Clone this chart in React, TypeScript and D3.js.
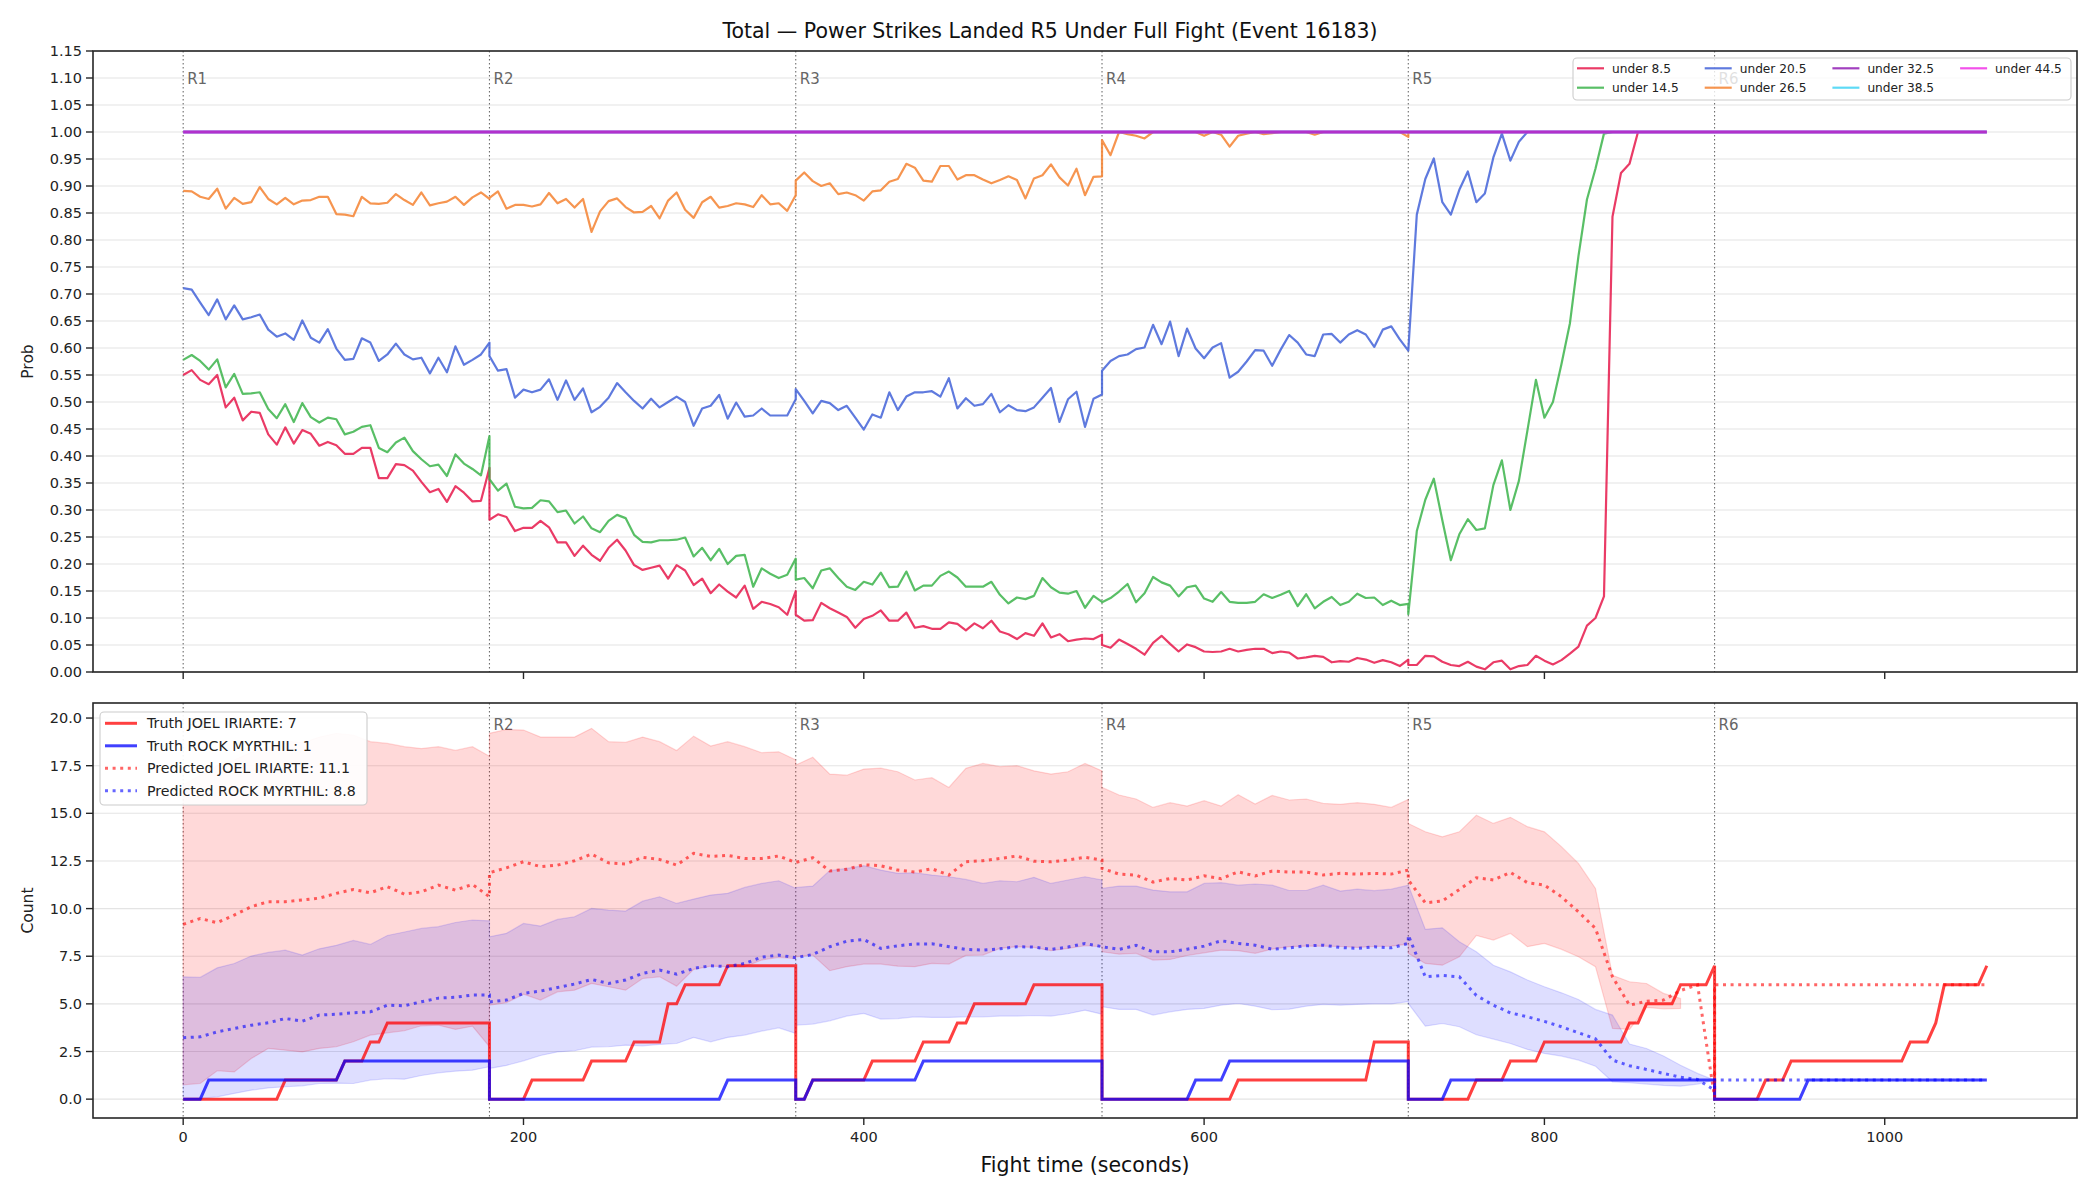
import * as d3 from 'd3';

const FONT = 'DejaVu Sans, Verdana, sans-serif';

// round layout of the fight (seconds)
const ROUND_START = [0, 180, 360, 540, 720, 900];
const ROUND_LABEL = ['R1', 'R2', 'R3', 'R4', 'R5', 'R6'];
const TOP_DT = 5;   // prob samples every 5 s
const TRUTH_DT = 5; // truth counts every 5 s
const PRED_DT = 10; // prediction + band samples every 10 s

// ---------------- top panel: P(total under line), one array per round ----------------
const LINE_LABELS = ['under 8.5', 'under 14.5', 'under 20.5', 'under 26.5', 'under 32.5', 'under 38.5', 'under 44.5'];
const LINE_COLORS = ['#e6194b', '#3cb44b', '#4363d8', '#f58231', '#911eb4', '#42d4f4', '#f032e6'];

const U8 = [
  [0.550,0.559,0.541,0.533,0.550,0.490,0.508,0.466,0.482,0.480,
   0.440,0.421,0.453,0.423,0.448,0.441,0.419,0.426,0.420,0.404,
   0.404,0.415,0.415,0.359,0.359,0.385,0.383,0.373,0.352,0.333,
   0.339,0.315,0.344,0.332,0.316,0.317,0.378],
  [0.282,0.292,0.287,0.261,0.267,0.267,0.280,0.268,0.240,0.240,
   0.215,0.234,0.217,0.206,0.230,0.245,0.225,0.198,0.189,0.193,
   0.197,0.173,0.198,0.188,0.161,0.173,0.146,0.162,0.149,0.138,
   0.160,0.117,0.130,0.126,0.120,0.106,0.150],
  [0.106,0.095,0.096,0.128,0.118,0.110,0.102,0.082,0.098,0.104,
   0.114,0.095,0.095,0.110,0.082,0.085,0.080,0.080,0.092,0.089,
   0.077,0.090,0.081,0.095,0.075,0.070,0.061,0.072,0.067,0.090,
   0.064,0.070,0.057,0.060,0.062,0.061,0.069],
  [0.050,0.045,0.060,0.052,0.043,0.032,0.054,0.067,0.052,0.038,
   0.051,0.046,0.038,0.037,0.038,0.043,0.038,0.041,0.043,0.043,
   0.035,0.038,0.036,0.025,0.027,0.030,0.028,0.018,0.020,0.019,
   0.026,0.023,0.017,0.022,0.018,0.011,0.023],
  [0.013,0.013,0.030,0.029,0.019,0.013,0.011,0.019,0.010,0.005,
   0.018,0.021,0.005,0.011,0.013,0.030,0.021,0.014,0.022,0.034,
   0.047,0.086,0.100,0.140,0.843,0.924,0.941,1,1,1,
   1,1,1,1,1,1,1],
];

const U14 = [
  [0.578,0.587,0.576,0.560,0.579,0.527,0.552,0.515,0.516,0.518,
   0.487,0.470,0.496,0.463,0.498,0.472,0.462,0.471,0.468,0.440,
   0.445,0.454,0.457,0.415,0.407,0.425,0.434,0.409,0.394,0.381,
   0.384,0.363,0.403,0.386,0.376,0.364,0.437],
  [0.357,0.336,0.349,0.306,0.303,0.304,0.318,0.316,0.296,0.299,
   0.275,0.288,0.266,0.259,0.280,0.291,0.285,0.254,0.241,0.240,
   0.244,0.244,0.245,0.249,0.214,0.230,0.207,0.228,0.200,0.215,
   0.217,0.158,0.192,0.182,0.174,0.180,0.210],
  [0.171,0.174,0.155,0.188,0.192,0.174,0.158,0.152,0.167,0.162,
   0.184,0.157,0.158,0.186,0.151,0.160,0.160,0.178,0.186,0.175,
   0.158,0.158,0.158,0.167,0.143,0.127,0.138,0.135,0.141,0.174,
   0.157,0.147,0.145,0.150,0.119,0.141,0.130],
  [0.129,0.137,0.149,0.163,0.129,0.146,0.176,0.166,0.160,0.140,
   0.157,0.160,0.136,0.130,0.148,0.130,0.128,0.128,0.130,0.144,
   0.137,0.143,0.150,0.122,0.144,0.118,0.130,0.139,0.124,0.130,
   0.145,0.137,0.138,0.124,0.132,0.124,0.126],
  [0.107,0.261,0.319,0.358,0.281,0.207,0.255,0.283,0.263,0.266,
   0.346,0.392,0.300,0.354,0.447,0.541,0.471,0.500,0.570,0.646,
   0.770,0.875,0.932,0.997,1,1,1,1,1,1,
   1,1,1,1,1,1,1],
];

const U20 = [
  [0.711,0.708,0.684,0.661,0.690,0.653,0.679,0.653,0.657,0.662,
   0.634,0.621,0.627,0.615,0.651,0.619,0.610,0.635,0.599,0.578,
   0.580,0.618,0.610,0.576,0.588,0.608,0.588,0.579,0.582,0.553,
   0.582,0.555,0.603,0.569,0.578,0.588,0.610],
  [0.585,0.558,0.561,0.508,0.523,0.518,0.523,0.542,0.504,0.540,
   0.504,0.525,0.481,0.491,0.508,0.535,0.518,0.502,0.488,0.506,
   0.490,0.500,0.510,0.500,0.456,0.488,0.493,0.513,0.469,0.499,
   0.473,0.475,0.488,0.475,0.475,0.475,0.505],
  [0.524,0.502,0.479,0.502,0.498,0.485,0.493,0.471,0.449,0.477,
   0.471,0.518,0.485,0.510,0.518,0.518,0.520,0.510,0.544,0.488,
   0.507,0.493,0.496,0.515,0.481,0.494,0.485,0.483,0.490,0.508,
   0.526,0.463,0.505,0.519,0.454,0.506,0.514],
  [0.558,0.576,0.585,0.588,0.598,0.601,0.643,0.607,0.649,0.585,
   0.636,0.599,0.581,0.601,0.609,0.545,0.556,0.575,0.596,0.595,
   0.567,0.597,0.624,0.610,0.588,0.585,0.625,0.626,0.610,0.625,
   0.633,0.625,0.602,0.634,0.640,0.616,0.595],
  [0.595,0.847,0.913,0.951,0.870,0.847,0.893,0.927,0.870,0.886,
   0.953,0.997,0.947,0.982,1,1,1,1,1,1,
   1,1,1,1,1,1,1,1,1,1,
   1,1,1,1,1,1,1],
];

const U26 = [
  [0.891,0.890,0.880,0.876,0.895,0.858,0.878,0.867,0.870,0.898,
   0.876,0.866,0.878,0.866,0.873,0.874,0.880,0.880,0.848,0.847,
   0.844,0.880,0.868,0.867,0.869,0.885,0.874,0.865,0.888,0.864,
   0.868,0.871,0.880,0.865,0.879,0.888,0.876],
  [0.878,0.890,0.858,0.865,0.865,0.862,0.866,0.887,0.868,0.876,
   0.860,0.876,0.815,0.853,0.872,0.877,0.861,0.851,0.852,0.863,
   0.840,0.873,0.888,0.856,0.841,0.870,0.880,0.860,0.863,0.868,
   0.866,0.861,0.883,0.866,0.868,0.854,0.883],
  [0.910,0.925,0.909,0.900,0.905,0.885,0.888,0.883,0.873,0.890,
   0.892,0.908,0.913,0.941,0.934,0.910,0.908,0.937,0.937,0.912,
   0.920,0.920,0.912,0.905,0.911,0.918,0.911,0.877,0.914,0.920,
   0.940,0.916,0.901,0.932,0.883,0.917,0.918],
  [0.985,0.957,1,0.996,0.993,0.988,1,1,1,1,
   1,1,0.993,1,0.995,0.973,0.993,0.997,1,0.996,
   0.998,1,1,1,1,0.995,1,1,1,1,
   1,1,1,1,1,1,0.991],
  [1,1,1,1,1,1,1,1,1,1,
   1,1,1,1,1,1,1,1,1,1,
   1,1,1,1,1,1,1,1,1,1,
   1,1,1,1,1,1,1],
];

// R6: every line already settled at 1.0
const SETTLED_T = [900, 1060];
const SETTLED_P = [1, 1];
// under 32.5 / 38.5 / 44.5 stay at 1.0 all fight
const FLAT_T = [0, 1060];
const FLAT_P = [1, 1];

// ---------------- bottom panel: counts ----------------
const FIGHTERS = ['JOEL IRIARTE', 'ROCK MYRTHIL'];
const FINAL_TRUTH = [7, 1];
const FINAL_PRED = [11.1, 8.8];

const RED_TRUTH = [
  [0,0,0,0,0,0,0,0,0,0, 0,0,1,1,1,1,1,1,1,2, 2,2,3,3,4,4,4,4,4,4, 4,4,4,4,4,4,4],
  [0,0,0,0,0,1,1,1,1,1, 1,1,2,2,2,2,2,3,3,3, 3,5,5,6,6,6,6,6,7,7, 7,7,7,7,7,7,7],
  [0,0,1,1,1,1,1,1,1,2, 2,2,2,2,2,3,3,3,3,4, 4,5,5,5,5,5,5,5,6,6, 6,6,6,6,6,6,6],
  [0,0,0,0,0,0,0,0,0,0, 0,0,0,0,0,0,1,1,1,1, 1,1,1,1,1,1,1,1,1,1, 1,1,3,3,3,3,3],
  [0,0,0,0,0,0,0,0,1,1, 1,1,2,2,2,2,3,3,3,3, 3,3,3,3,3,3,4,4,5,5, 5,5,6,6,6,6,7],
  [0,0,0,0,0,0,1,1,1,2, 2,2,2,2,2,2,2,2,2,2, 2,2,2,3,3,3,4,6,6,6, 6,6,7],
];
const BLUE_TRUTH = [
  [0,0,0,1,1,1,1,1,1,1, 1,1,1,1,1,1,1,1,1,2, 2,2,2,2,2,2,2,2,2,2, 2,2,2,2,2,2,2],
  [0,0,0,0,0,0,0,0,0,0, 0,0,0,0,0,0,0,0,0,0, 0,0,0,0,0,0,0,0,1,1, 1,1,1,1,1,1,1],
  [0,0,1,1,1,1,1,1,1,1, 1,1,1,1,1,2,2,2,2,2, 2,2,2,2,2,2,2,2,2,2, 2,2,2,2,2,2,2],
  [0,0,0,0,0,0,0,0,0,0, 0,1,1,1,1,2,2,2,2,2, 2,2,2,2,2,2,2,2,2,2, 2,2,2,2,2,2,2],
  [0,0,0,0,0,1,1,1,1,1, 1,1,1,1,1,1,1,1,1,1, 1,1,1,1,1,1,1,1,1,1, 1,1,1,1,1,1,1],
  [0,0,0,0,0,0,0,0,0,0, 0,1,1,1,1,1,1,1,1,1, 1,1,1,1,1,1,1,1,1,1, 1,1,1],
];

const RED_PRED = [
  [9.17,9.48,9.26,9.66,10.1,10.36,10.36,10.45,10.55,10.8,11.0,10.83,11.15,10.76,10.88,11.23,10.97,11.27,10.62],
  [11.88,12.14,12.46,12.2,12.28,12.51,12.86,12.4,12.34,12.69,12.58,12.28,12.9,12.74,12.79,12.63,12.63,12.76,12.42],
  [12.42,12.67,11.97,12.06,12.3,12.25,12.02,11.92,12.09,11.76,12.46,12.51,12.63,12.76,12.49,12.46,12.55,12.69,12.55],
  [12.11,11.81,11.76,11.39,11.58,11.5,11.72,11.57,11.93,11.71,11.97,11.92,11.92,11.76,11.85,11.81,11.85,11.81,12.02],
  [11.5,10.3,10.4,11.0,11.62,11.5,11.9,11.36,11.23,10.62,9.83,8.96,6.42,4.93,5.14,5.2,5.7,6.0,0.1],
  [6,6,6,6,6,6,6,6,6,6,6,6,6,6,6,6,6],
];
const BLUE_PRED = [
  [3.22,3.27,3.53,3.71,3.88,4.01,4.23,4.09,4.41,4.46,4.53,4.58,4.93,4.9,5.11,5.3,5.35,5.46,5.46],
  [5.1,5.2,5.55,5.67,5.86,6.04,6.28,6.07,6.25,6.6,6.77,6.56,6.86,7.0,6.95,7.12,7.45,7.56,7.42],
  [7.42,7.59,8.0,8.29,8.38,7.91,8.05,8.14,8.15,8.0,7.86,7.82,7.89,8.0,7.98,7.86,7.98,8.17,8.0],
  [8.0,7.86,8.07,7.73,7.73,7.87,8.03,8.31,8.17,8.08,7.87,7.94,8.05,8.08,7.96,7.91,8.0,7.94,8.17],
  [8.6,6.42,6.49,6.42,5.44,4.93,4.53,4.32,4.08,3.8,3.48,3.17,2.05,1.75,1.56,1.35,1.15,1.03,0.47],
  [1,1,1,1,1,1,1,1,1,1,1,1,1,1,1,1,1],
];

const RED_HI = [
  [16.5,17.0,17.5,17.8,18.2,18.5,18.8,18.7,19.0,19.2,19.1,18.76,18.67,18.5,18.4,18.5,18.3,18.5,18.0],
  [19.2,19.4,19.37,19.0,19.0,19.0,19.46,18.76,18.72,19.0,18.76,18.3,19.05,18.53,18.76,18.5,18.18,18.23,17.8],
  [17.53,17.94,17.06,17.0,17.32,17.37,17.18,16.75,16.87,16.36,17.36,17.62,17.45,17.5,17.23,17.06,17.18,17.62,17.23],
  [16.36,15.96,15.75,15.31,15.56,15.38,15.66,15.38,15.98,15.49,15.94,15.7,15.75,15.52,15.47,15.56,15.47,15.31,15.73],
  [14.47,14.03,13.77,14.03,14.9,14.47,14.79,14.3,14.03,13.25,12.37,11.06,6.5,6.16,6.07,5.55,5.28],
];
const RED_LO = [
  [0.75,0.82,1.49,1.43,2.13,2.66,2.57,2.48,2.66,2.75,3.01,3.36,3.48,3.59,3.85,3.88,3.66,3.83,2.75],
  [4.93,5.06,5.51,5.2,5.63,5.72,6.07,5.9,5.72,6.33,6.42,5.93,6.81,6.98,6.95,6.95,7.3,7.44,7.38],
  [7.47,7.56,6.74,6.95,7.09,7.09,6.98,6.95,7.12,7.09,7.54,7.56,7.91,8.0,7.96,7.79,7.91,8.05,8.0],
  [7.73,7.61,7.65,7.3,7.33,7.54,7.68,7.82,7.79,7.65,7.87,8.0,8.03,8.03,8.01,7.96,8.01,8.03,8.14],
  [7.65,7.12,7.03,7.47,8.59,8.35,8.7,8.0,8.17,7.86,7.47,6.95,3.71,3.66,4.81,4.74,4.76],
];
const BLUE_HI = [
  [6.42,6.39,6.89,7.12,7.51,7.7,7.82,7.56,7.89,8.07,8.33,8.12,8.59,8.77,8.96,9.05,9.27,9.4,9.36],
  [8.52,8.7,9.22,9.08,9.43,9.57,10.01,9.92,9.87,10.39,10.62,10.27,10.5,10.71,10.8,11.11,11.32,11.46,11.06],
  [11.11,11.18,11.99,12.11,12.25,12.02,11.85,11.88,11.76,11.67,11.53,11.32,11.46,11.41,11.64,11.32,11.5,11.67,11.5],
  [11.06,11.18,11.18,10.97,10.88,10.88,11.32,11.36,11.23,11.29,11.23,10.95,10.95,11.23,10.92,11.02,10.94,11.02,11.23],
  [11.23,8.91,8.99,8.26,7.73,7.03,6.68,6.25,5.9,5.58,5.23,4.71,4.41,2.89,2.66,2.26,1.78,1.35,1.0],
];
const BLUE_LO = [
  [0.05,0.04,0.12,0.3,0.47,0.59,0.65,0.7,0.82,0.84,0.82,1.0,1.07,1.05,1.24,1.38,1.47,1.52,1.7],
  [1.61,1.77,2.01,2.29,2.48,2.54,2.73,2.75,2.83,2.8,2.87,2.92,3.24,3.01,3.24,3.36,3.57,3.74,3.45],
  [3.88,3.94,4.11,4.36,4.5,4.2,4.23,4.32,4.29,4.29,4.32,4.32,4.36,4.36,4.39,4.36,4.48,4.67,4.46],
  [4.85,4.71,4.71,4.41,4.58,4.71,4.76,4.93,5.02,4.88,4.69,4.72,4.88,4.97,4.93,4.97,5.0,5.0,5.11],
  [5.02,3.83,3.97,3.8,3.38,3.15,2.92,2.61,2.4,2.26,2.05,1.73,0.91,0.86,0.79,0.72,0.68,0.79,1.0],
];

const P_TICKS = d3.range(24).map(i => i * 0.05);
const C_TICKS = d3.range(9).map(i => i * 2.5);
const X_TICKS = [0, 200, 400, 600, 800, 1000];

type Pt = [number, number];

// stitch per-round arrays into one polyline (round starts repeat the previous end time)
function byRound(rounds: number[][], dt: number): Pt[] {
  const pts: Pt[] = [];
  rounds.forEach((vals, r) => vals.forEach((v, i) => pts.push([ROUND_START[r] + i * dt, v])));
  return pts;
}
const zip = (ts: number[], vs: number[]): Pt[] => ts.map((t, i) => [t, vs[i]]);

export default function App() {
  // general dims (figure pixels)
  const width = 2100;
  const height = 1200;
  const left = 93;
  const right = 2077;
  const top1 = 51, bot1 = 672;
  const top2 = 703, bot2 = 1118;

  const x = d3.scaleLinear().domain([-53, 1113]).range([left, right]);
  const yP = d3.scaleLinear().domain([0, 1.15]).range([bot1, top1]);
  const yC = d3.scaleLinear().domain([-0.99, 20.79]).range([bot2, top2]);

  const lineP = d3.line<Pt>().x(d => x(d[0])).y(d => yP(d[1]));
  const lineC = d3.line<Pt>().x(d => x(d[0])).y(d => yC(d[1]));

  const movingSeries = [
    byRound(U8, TOP_DT).concat(zip(SETTLED_T, SETTLED_P)),
    byRound(U14, TOP_DT).concat(zip(SETTLED_T, SETTLED_P)),
    byRound(U20, TOP_DT).concat(zip(SETTLED_T, SETTLED_P)),
    byRound(U26, TOP_DT).concat(zip(SETTLED_T, SETTLED_P)),
  ];
  // the three always-1.0 lines stack on one another; the purple one reads on top
  const flatOrder = [5, 6, 4];

  const band = (hi: number[][], lo: number[][]) => {
    const h = byRound(hi, PRED_DT);
    const l = byRound(lo, PRED_DT);
    return d3.area<number>()
      .x(i => x(h[i][0]))
      .y0(i => yC(l[i][1]))
      .y1(i => yC(h[i][1]))(d3.range(h.length));
  };

  const axisColor = '#262626';
  const tickFont = 14.5;

  const roundLines = (y0: number, y1: number, labelY: number, key: string) => (
    <g key={key}>
      {ROUND_START.map((t, i) => (
        <g key={i}>
          <line x1={x(t)} x2={x(t)} y1={y0} y2={y1} stroke="#555" strokeWidth={1.1}
            strokeDasharray="1.4,2.6" opacity={0.85} />
          <text x={x(t) + 4} y={labelY} fontSize={15} fill="#666" fontFamily={FONT}>
            {ROUND_LABEL[i]}
          </text>
        </g>
      ))}
    </g>
  );

  const xTicks = (yb: number, labels: boolean) => X_TICKS.map(t => (
    <g key={t}>
      <line x1={x(t)} x2={x(t)} y1={yb} y2={yb + 7} stroke={axisColor} strokeWidth={1.4} />
      {labels && (
        <text x={x(t)} y={yb + 24} textAnchor="middle" fontSize={tickFont} fill="#222" fontFamily={FONT}>
          {t}
        </text>
      )}
    </g>
  ));

  const legendTop = { x: 1573, y: 58, w: 498, h: 42 };
  const legendBot = { x: 100, y: 712, w: 267, h: 93 };
  const dotted = '3,4.6';

  return (
    <div style={{ position: 'absolute', left: 0, top: 0 }}>
      <svg width={width} height={height} style={{ display: 'block', background: '#fff' }}>
        <rect width={width} height={height} fill="#fff" />

        {/* title */}
        <text x={width / 2} y={38} textAnchor="middle" fontSize={20.5} fill="#111" fontFamily={FONT}>
          Total — Power Strikes Landed R5 Under Full Fight (Event 16183)
        </text>

        {/* ---------- top panel ---------- */}
        {P_TICKS.map(v => (
          <line key={v} x1={left} x2={right} y1={yP(v)} y2={yP(v)} stroke="#e4e4e4" strokeWidth={1.1} />
        ))}
        {roundLines(top1, bot1, 84, 'rt')}
        {movingSeries.map((pts, i) => (
          <path key={i} d={lineP(pts) || ''} fill="none" stroke={LINE_COLORS[i]} strokeOpacity={0.85}
            strokeWidth={2.2} strokeLinejoin="round" />
        ))}
        {flatOrder.map((c, j) => (
          <path key={c} d={lineP(zip(FLAT_T, FLAT_P)) || ''} fill="none" stroke={LINE_COLORS[c]}
            strokeOpacity={j === 2 ? 0.55 : 0.85} strokeWidth={2.8} />
        ))}

        {/* top legend */}
        <rect x={legendTop.x} y={legendTop.y} width={legendTop.w} height={legendTop.h} rx={4}
          fill="#fff" fillOpacity={0.8} stroke="#cccccc" strokeWidth={1.1} />
        {LINE_LABELS.map((lab, i) => {
          const col = Math.floor(i / 2);
          const row = i % 2;
          const lx = 1577 + col * 127.7;
          const ly = 68.3 + row * 19.4;
          return (
            <g key={lab}>
              <line x1={lx} x2={lx + 27} y1={ly} y2={ly} stroke={LINE_COLORS[i]} strokeOpacity={0.85} strokeWidth={2.2} />
              <text x={lx + 35} y={ly + 4.3} fontSize={12.2} fill="#222" fontFamily={FONT}>{lab}</text>
            </g>
          );
        })}

        {/* top axes */}
        {P_TICKS.map(v => (
          <g key={v}>
            <line x1={left - 7} x2={left} y1={yP(v)} y2={yP(v)} stroke={axisColor} strokeWidth={1.4} />
            <text x={left - 11} y={yP(v) + 5} textAnchor="end" fontSize={tickFont} fill="#222" fontFamily={FONT}>
              {d3.format('.2f')(v)}
            </text>
          </g>
        ))}
        {xTicks(bot1, false)}
        <rect x={left} y={top1} width={right - left} height={bot1 - top1} fill="none" stroke={axisColor} strokeWidth={1.6} />
        <text transform={`translate(33, ${(top1 + bot1) / 2}) rotate(-90)`} textAnchor="middle" fontSize={15.5}
          fill="#222" fontFamily={FONT}>Prob</text>

        {/* ---------- bottom panel ---------- */}
        {C_TICKS.map(v => (
          <line key={v} x1={left} x2={right} y1={yC(v)} y2={yC(v)} stroke="#e4e4e4" strokeWidth={1.1} />
        ))}
        {roundLines(top2, bot2, 729.5, 'rb')}

        {/* uncertainty bands */}
        <path d={band(RED_HI, RED_LO) || ''} fill="#ff0000" fillOpacity={0.15} stroke="#ff0000" strokeOpacity={0.15} strokeWidth={1.2} />
        <path d={band(BLUE_HI, BLUE_LO) || ''} fill="#0000ff" fillOpacity={0.13} stroke="#0000ff" strokeOpacity={0.13} strokeWidth={1.2} />

        {/* truth */}
        <path d={lineC(byRound(RED_TRUTH, TRUTH_DT)) || ''} fill="none" stroke="#ff0000" strokeOpacity={0.75} strokeWidth={3} />
        <path d={lineC(byRound(BLUE_TRUTH, TRUTH_DT)) || ''} fill="none" stroke="#0000ff" strokeOpacity={0.75} strokeWidth={3} />

        {/* predicted */}
        <path d={lineC(byRound(RED_PRED, PRED_DT)) || ''} fill="none" stroke="#ff0000" strokeOpacity={0.6} strokeWidth={3}
          strokeDasharray={dotted} />
        <path d={lineC(byRound(BLUE_PRED, PRED_DT)) || ''} fill="none" stroke="#0000ff" strokeOpacity={0.6} strokeWidth={3}
          strokeDasharray={dotted} />

        {/* bottom legend (covers the R1 tag, as in the original) */}
        <rect x={legendBot.x} y={legendBot.y} width={legendBot.w} height={legendBot.h} rx={4}
          fill="#fff" fillOpacity={0.92} stroke="#cccccc" strokeWidth={1.1} />
        {[0, 1, 2, 3].map(i => {
          const who = i % 2;
          const pred = i >= 2;
          const ly = 723.3 + i * 22.5;
          const label = pred
            ? `Predicted ${FIGHTERS[who]}: ${FINAL_PRED[who]}`
            : `Truth ${FIGHTERS[who]}: ${FINAL_TRUTH[who]}`;
          return (
            <g key={i}>
              <line x1={105} x2={137} y1={ly} y2={ly} stroke={who ? '#0000ff' : '#ff0000'}
                strokeOpacity={pred ? 0.6 : 0.75} strokeWidth={3} strokeDasharray={pred ? dotted : undefined} />
              <text x={147} y={ly + 5} fontSize={14.2} fill="#222" fontFamily={FONT}>{label}</text>
            </g>
          );
        })}

        {/* bottom axes */}
        {C_TICKS.map(v => (
          <g key={v}>
            <line x1={left - 7} x2={left} y1={yC(v)} y2={yC(v)} stroke={axisColor} strokeWidth={1.4} />
            <text x={left - 11} y={yC(v) + 5} textAnchor="end" fontSize={tickFont} fill="#222" fontFamily={FONT}>
              {d3.format('.1f')(v)}
            </text>
          </g>
        ))}
        {xTicks(bot2, true)}
        <rect x={left} y={top2} width={right - left} height={bot2 - top2} fill="none" stroke={axisColor} strokeWidth={1.6} />
        <text transform={`translate(33, ${(top2 + bot2) / 2}) rotate(-90)`} textAnchor="middle" fontSize={15.5}
          fill="#222" fontFamily={FONT}>Count</text>
        <text x={(left + right) / 2} y={1172} textAnchor="middle" fontSize={20.5} fill="#111" fontFamily={FONT}>
          Fight time (seconds)
        </text>
      </svg>
    </div>
  );
}
